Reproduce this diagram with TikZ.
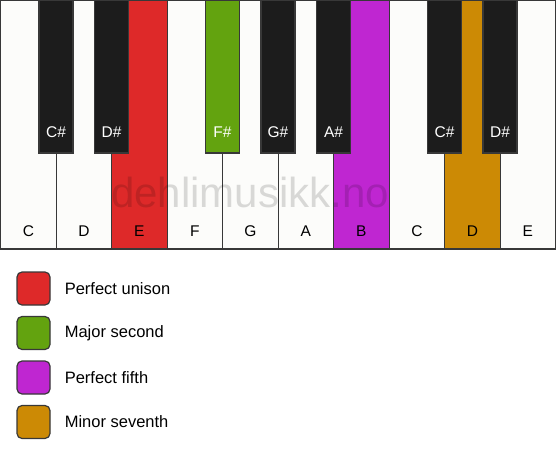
\documentclass[tikz,border=0pt]{standalone}
\usepackage{fontspec}
\setmainfont{Liberation Sans}
\usetikzlibrary{positioning}

\tikzset{
  whitekey/.style={draw=keyedge, line width=1.2pt, fill=ivory},
  blackkey/.style={draw=keyedge, line width=1.2pt, fill=ebony},
  keylabel/.style={font=\fontsize{15.5}{18}\selectfont, text=black},
  sharplabel/.style={font=\fontsize{15.5}{18}\selectfont, text=white},
  swatch/.style={draw=keyedge, line width=1.2pt, rounded corners=5pt,
    minimum size=33pt, inner sep=0pt},
  legendlabel/.style={font=\fontsize{16.5}{19}\selectfont, inner sep=0pt},
}

\begin{document}
\begin{tikzpicture}[x=1pt, y=-1pt]
% Defining colors
\definecolor{ivory}{rgb}{0.99, 0.99, 0.98}
\definecolor{ebony}{rgb}{0.11, 0.11, 0.11}
\definecolor{keyedge}{rgb}{0.22, 0.22, 0.22}

\definecolor{unisonred}{rgb}{0.87, 0.16, 0.16}
\definecolor{secondgreen}{rgb}{0.39, 0.64, 0.06}
\definecolor{fifthpurple}{rgb}{0.75, 0.15, 0.82}
\definecolor{seventhgold}{rgb}{0.80, 0.54, 0.02}

\useasboundingbox (0, 0) rectangle (556, 461);

% =:=:=:=:=:=:=:=:=:=:=:=:=:=:=:=:=:=:=
% White keys
% =:=:=:=:=:=:=:=:=:=:=:=:=:=:=:=:=:=:=
\foreach \i/\note/\col in {0/C/ivory, 1/D/ivory, 2/E/unisonred,
    3/F/ivory, 4/G/ivory, 5/A/ivory, 6/B/fifthpurple,
    7/C/ivory, 8/D/seventhgold, 9/E/ivory}
{
  \draw[whitekey, fill=\col]
      ({\i*55.5 + 0.6}, 0.6) rectangle ({(\i+1)*55.5 + 0.6}, 249);
  \node[keylabel] (w\i) at ({(\i+0.5)*55.5 + 0.6}, 231) {\note};
}

% =:=:=:=:=:=:=:=:=:=:=:=:=:=:=:=:=:=:=
% Watermark
% =:=:=:=:=:=:=:=:=:=:=:=:=:=:=:=:=:=:=
\node[anchor=base, text=black, opacity=0.14,
      font=\fontsize{42}{46}\selectfont] (mark) at (250, 207)
    {dehlimusikk.no};

% =:=:=:=:=:=:=:=:=:=:=:=:=:=:=:=:=:=:=
% Black keys
% =:=:=:=:=:=:=:=:=:=:=:=:=:=:=:=:=:=:=
\foreach \i/\note/\col in {1/C\#/ebony, 2/D\#/ebony, 4/F\#/secondgreen,
    5/G\#/ebony, 6/A\#/ebony, 8/C\#/ebony, 9/D\#/ebony}
{
  \draw[blackkey, fill=\col]
      ({\i*55.5 - 16.5}, 0.6) rectangle ({\i*55.5 + 17.5}, 153);
  \node[sharplabel] (b\i) at ({\i*55.5 + 0.5}, 132.5) {\note};
}

% =:=:=:=:=:=:=:=:=:=:=:=:=:=:=:=:=:=:=
% Legend
% =:=:=:=:=:=:=:=:=:=:=:=:=:=:=:=:=:=:=
\node[swatch, fill=unisonred]   (sq1) at (33.5, 288.5) {};
\node[swatch, fill=secondgreen] (sq2) at (33.5, 333) {};
\node[swatch, fill=fifthpurple] (sq3) at (33.5, 377.5) {};
\node[swatch, fill=seventhgold] (sq4) at (33.5, 422) {};

\node[legendlabel, right=14pt of sq1] (lab1) {Perfect unison};
\node[legendlabel, right=14pt of sq2] (lab2) {Major second};
\node[legendlabel, right=14pt of sq3] (lab3) {Perfect fifth};
\node[legendlabel, right=14pt of sq4] (lab4) {Minor seventh};

\end{tikzpicture}
\end{document}
